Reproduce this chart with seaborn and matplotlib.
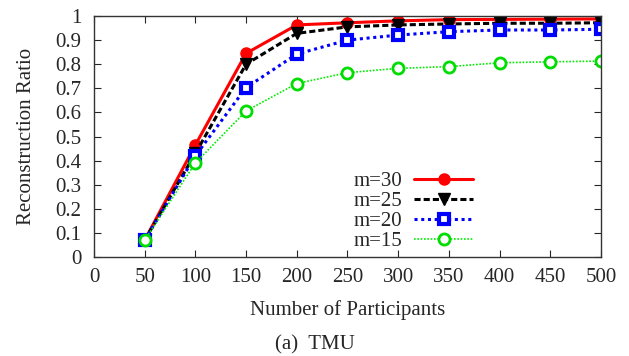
import matplotlib
matplotlib.use("Agg")
import matplotlib.pyplot as plt
import pandas as pd
import seaborn as sns

PARTICIPANTS = [50, 100, 150, 200, 250, 300, 350, 400, 450, 500]
M30 = [0.07, 0.465, 0.845, 0.963, 0.972, 0.98, 0.985, 0.986, 0.987, 0.988]
M25 = [0.07, 0.43, 0.80, 0.928, 0.955, 0.963, 0.967, 0.97, 0.97, 0.972]
M20 = [0.07, 0.42, 0.703, 0.842, 0.90, 0.921, 0.935, 0.942, 0.942, 0.945]
M15 = [0.07, 0.39, 0.606, 0.72, 0.765, 0.783, 0.79, 0.806, 0.81, 0.813]

SERIES = {"m=30": M30, "m=25": M25, "m=20": M20, "m=15": M15}

STYLES = {
    "m=30": dict(color="#ff0000", ls="-", lw=2.2, marker="o", ms=8,
                 mfc="#ff0000", mec="#ff0000", mew=1),
    "m=25": dict(color="black", ls=(0, (2, 1)), lw=2.2, marker="v", ms=8,
                 mfc="black", mec="black", mew=1),
    "m=20": dict(color="#0000ff", ls=(0, (1, 1.2)), lw=2.2, marker="s", ms=7.5,
                 mfc="white", mec="#0000ff", mew=3),
    "m=15": dict(color="#00ee00", ls=(0, (1, 1)), lw=1.2, marker="o", ms=8,
                 mfc="white", mec="#00dd00", mew=2),
}

FS = 15

sns.set_style("ticks")
plt.rcParams["font.family"] = ["Liberation Serif", "DejaVu Serif"]

fig = plt.figure(figsize=(6.29, 3.56), dpi=100)
ax = fig.add_axes([0.1494, 0.278, 0.806, 0.677])

for name, vals in SERIES.items():
    df = pd.DataFrame({"x": PARTICIPANTS, "y": vals})
    st = STYLES[name]
    sns.lineplot(data=df, x="x", y="y", ax=ax, label=name, color=st["color"],
                 linestyle=st["ls"], linewidth=st["lw"], marker=st["marker"],
                 markersize=st["ms"], markerfacecolor=st["mfc"],
                 markeredgecolor=st["mec"], markeredgewidth=st["mew"])

ax.set_xlim(0, 500)
ax.set_ylim(0, 1)
ax.set_xticks(range(0, 501, 50))
ax.set_yticks([i / 10 for i in range(11)])
ax.set_yticklabels(["0", "0.1", "0.2", "0.3", "0.4", "0.5", "0.6", "0.7",
                    "0.8", "0.9", "1"])
ax.tick_params(direction="in", top=True, right=True, length=5, width=0.8,
               labelsize=FS)
ax.tick_params(axis="x", pad=8)
ax.tick_params(axis="y", pad=9)
for sp in ax.spines.values():
    sp.set_linewidth(1)
    sp.set_color("#333333")

ax.set_xlabel("Number of Participants", fontsize=FS, labelpad=9)
ax.set_ylabel("Reconstruction Ratio", fontsize=FS, labelpad=14)

ax.legend(loc="lower right", bbox_to_anchor=(0.78, -0.045), markerfirst=False,
          frameon=False, fontsize=FS, handlelength=2.8, handletextpad=0.6,
          labelspacing=0.02, borderpad=0.3, numpoints=1)

fig.text(0.5, 0.03, "(a)  TMU", ha="center", va="center", fontsize=FS)

fig.savefig("out.png", dpi=100)
